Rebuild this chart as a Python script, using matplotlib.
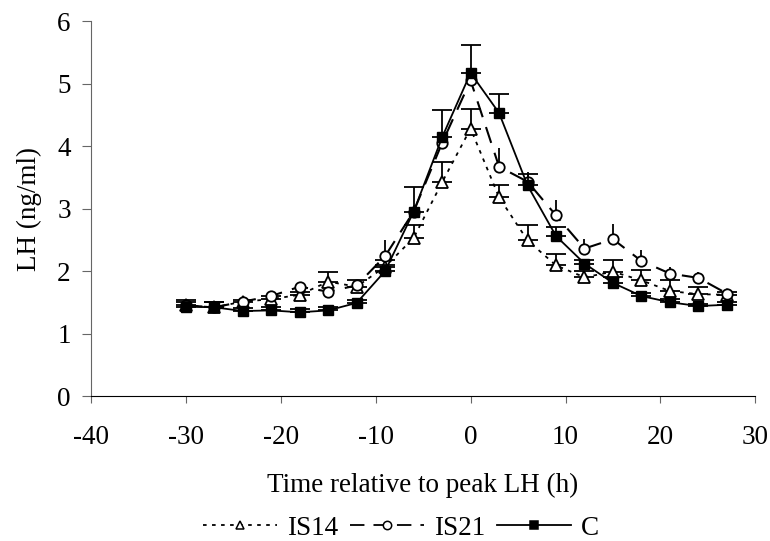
import numpy as np
import matplotlib.pyplot as plt
from matplotlib.lines import Line2D

plt.rcParams['font.family'] = ['Liberation Serif', 'DejaVu Serif']
plt.rcParams['axes.unicode_minus'] = False

# time relative to peak LH (h)
hours = list(range(-30, 28, 3))

# mean LH (ng/ml) and upper error bar length for each group
is14 = [1.45, 1.42, 1.51, 1.55, 1.62, 1.83, 1.75, 2.07, 2.53, 3.42,
        4.28, 3.18, 2.49, 2.09, 1.90, 1.99, 1.85, 1.68, 1.63, 1.62]
is14_err = [0.08, 0.09, 0.03, 0.05, 0.05, 0.15, 0.10, 0.10, 0.20, 0.33,
            0.31, 0.20, 0.24, 0.19, 0.10, 0.19, 0.16, 0.17, 0.11, 0.05]

is21 = [1.45, 1.42, 1.51, 1.60, 1.75, 1.67, 1.77, 2.24, 2.95, 4.05,
        5.05, 3.67, 3.43, 2.89, 2.36, 2.51, 2.16, 1.96, 1.89, 1.64]
is21_err = [0.05, 0.05, 0.03, 0.03, 0.05, 0.05, 0.05, 0.25, 0.10, 0.10,
            0.10, 0.30, 0.15, 0.25, 0.15, 0.25, 0.18, 0.10, 0.09, 0.05]

ctrl = [1.43, 1.42, 1.36, 1.37, 1.34, 1.37, 1.49, 2.00, 2.95, 4.14,
        5.17, 4.53, 3.37, 2.56, 2.12, 1.81, 1.60, 1.50, 1.44, 1.46]
ctrl_err = [0.08, 0.08, 0.05, 0.05, 0.05, 0.05, 0.05, 0.10, 0.40, 0.43,
            0.44, 0.31, 0.18, 0.14, 0.06, 0.10, 0.05, 0.05, 0.04, 0.04]

fig = plt.figure(figsize=(7.7, 5.41), dpi=100)
ax = fig.add_axes([0.118, 0.268, 0.863, 0.693])

zeros = np.zeros(len(hours))

styles = {
    'IS14': dict(ls=(0, (2, 3)), marker='^', mfc='white', ms=8),
    'IS21': dict(ls=(0, (8, 5)), marker='o', mfc='white', ms=7.5),
    'C': dict(ls='-', marker='s', mfc='black', ms=7.5),
}

# IS14 - dotted, open triangles
ax.errorbar(hours, is14, yerr=[zeros, is14_err], color='black', lw=1.3,
            mec='black', mew=1.3, ecolor='black', elinewidth=1.3,
            capsize=7, capthick=1.3, zorder=3, **styles['IS14'])
# IS21 - long dashed, open circles
ax.errorbar(hours, is21, yerr=[zeros, is21_err], color='black', lw=1.5,
            mec='black', mew=1.3, ecolor='black', elinewidth=1.3,
            capsize=0, zorder=4, **styles['IS21'])
# C - solid, filled squares
ax.errorbar(hours, ctrl, yerr=[zeros, ctrl_err], color='black', lw=1.3,
            mec='black', ecolor='black', elinewidth=1.3,
            capsize=7, capthick=1.3, zorder=5, **styles['C'])

ax.set_xlim(-40, 30)
ax.set_ylim(0, 6)
ax.set_xticks(range(-40, 31, 10))
ax.set_yticks(range(0, 7))

for s in ['top', 'right']:
    ax.spines[s].set_visible(False)
ax.spines['left'].set_color('#666666')
ax.spines['bottom'].set_color('black')
ax.tick_params(axis='both', direction='out', color='#666666', labelsize=19.5)
ax.tick_params(axis='x', length=5, pad=16)
ax.tick_params(axis='y', length=6.5, pad=8)

ax.set_xlabel('Time relative to peak LH (h)', fontsize=19.5, labelpad=16)
ax.set_ylabel('LH (ng/ml)', fontsize=19.5, labelpad=11)

handles = [Line2D([], [], color='black', lw=1.3, mec='black', mew=1.1,
                  **dict(styles[k], ms=6)) for k in ['IS14', 'IS21', 'C']]
ax.legend(handles, ['IS14', 'IS21', 'C'], loc='upper center',
          bbox_to_anchor=(0.467, -0.29), ncol=3, frameon=False, fontsize=19.5,
          handlelength=2.73, handletextpad=0.37, columnspacing=0.44,
          borderaxespad=0, borderpad=0.4)

fig.savefig('out.png', dpi=100)
